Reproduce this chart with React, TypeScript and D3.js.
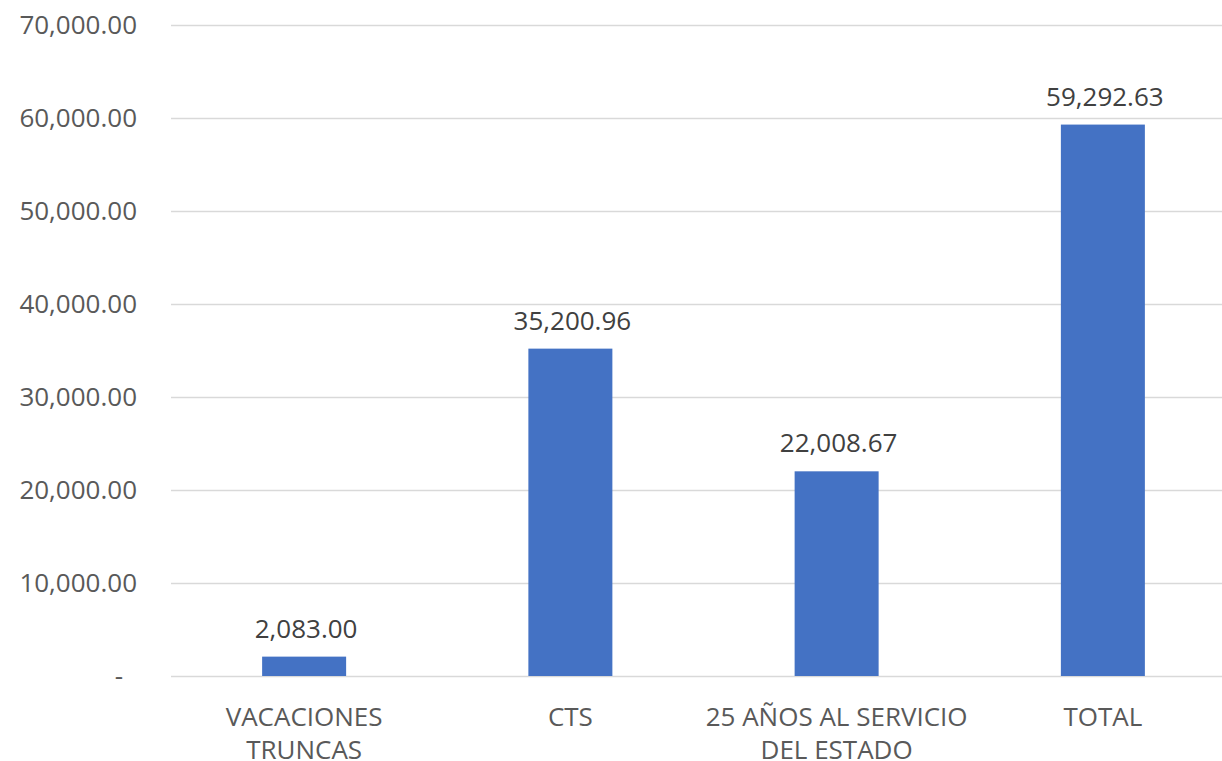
import React from "react";
import * as d3 from "d3";

const categories: string[][] = [
  ["VACACIONES", "TRUNCAS"],
  ["CTS"],
  ["25 AÑOS AL SERVICIO", "DEL ESTADO"],
  ["TOTAL"],
];
const values: number[] = [2083.0, 35200.96, 22008.67, 59292.63];
const yTicks: number[] = [0, 10000, 20000, 30000, 40000, 50000, 60000, 70000];

const W = 1222;
const H = 761;
const FONT = "'Open Sans', 'Noto Sans', sans-serif";

export default function App() {
  const keys = categories.map((c) => c.join(" "));
  const x = d3
    .scaleBand<string>()
    .domain(keys)
    .range([171, 1236])
    .paddingInner(0.6845)
    .paddingOuter(0.6845 / 2);
  const y = d3.scaleLinear().domain([0, 70000]).range([676, 25]);
  const fmt = d3.format(",.2f");

  return (
    <svg
      width={W}
      height={H}
      style={{ position: "absolute", left: 0, top: 0, background: "#fff" }}
      fontFamily={FONT}
    >
      {yTicks.map((t) => (
        <g key={t}>
          <line
            x1={171}
            x2={W}
            y1={Math.round(y(t)) + 0.5}
            y2={Math.round(y(t)) + 0.5}
            stroke="#d9d9d9"
            strokeWidth={1.3}
          />
          <text
            x={t === 0 ? 123 : 137}
            y={y(t)}
            dy="0.36em"
            textAnchor="end"
            fontSize={26}
            fill="#595959"
          >
            {t === 0 ? "-" : fmt(t)}
          </text>
        </g>
      ))}
      {values.map((v, i) => {
        const k = keys[i];
        const bx = x(k)!;
        const cx = bx + x.bandwidth() / 2;
        return (
          <g key={k}>
            <rect
              x={bx}
              y={y(v)}
              width={x.bandwidth()}
              height={y(0) - y(v)}
              fill="#4472c4"
            />
            <text
              x={cx + 2}
              y={y(v) - 19}
              textAnchor="middle"
              fontSize={26}
              fill="#404040"
            >
              {fmt(v)}
            </text>
            {categories[i].map((line, j) => (
              <text
                key={j}
                x={cx}
                y={726 + j * 33}
                textAnchor="middle"
                fontSize={26}
                fill="#595959"
              >
                {line}
              </text>
            ))}
          </g>
        );
      })}
    </svg>
  );
}
